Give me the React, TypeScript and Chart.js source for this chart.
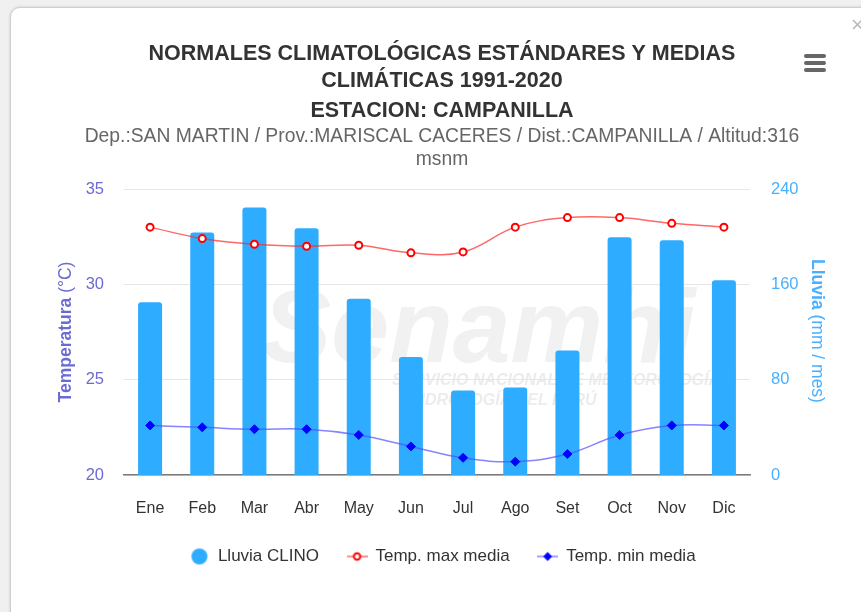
import { useEffect, useRef } from "react";
import { Chart, registerables } from "chart.js";

Chart.register(...registerables);

const FONT = "'Liberation Sans', Arial, Helvetica, sans-serif";
Chart.defaults.font.family = FONT;

const months = ["Ene", "Feb", "Mar", "Abr", "May", "Jun", "Jul", "Ago", "Set", "Oct", "Nov", "Dic"];
const lluviaClino = [145, 203.5, 224.5, 207, 148, 99, 71, 73.5, 104.5, 199.5, 197, 163.5];
const tempMax = [33.0, 32.4, 32.1, 32.0, 32.05, 31.65, 31.7, 33.0, 33.5, 33.5, 33.2, 33.0];
const tempMin = [22.6, 22.5, 22.4, 22.4, 22.1, 21.5, 20.9, 20.7, 21.1, 22.1, 22.6, 22.6];
const tempRange = [20, 35];
const tempStep = 5;
const rainRange = [0, 240];
const rainStep = 80;

const titleLines = [
  "NORMALES CLIMATOLÓGICAS ESTÁNDARES Y MEDIAS",
  "CLIMÁTICAS 1991-2020",
  "ESTACION: CAMPANILLA",
];
const subtitleLines = [
  "Dep.:SAN MARTIN / Prov.:MARISCAL CACERES / Dist.:CAMPANILLA / Altitud:316",
  "msnm",
];
const seriesNames = ["Lluvia CLINO", "Temp. max media", "Temp. min media"];
const leftTitle = ["Temperatura", " (°C)"];
const rightTitle = ["Lluvia", " (mm / mes)"];
const watermark = ["Senamhi", "SERVICIO NACIONAL DE METEOROLOGÍA E", "HIDROLOGÍA DEL PERÚ"];

const BAR_COLOR = "#2eacff";
const MAX_COLOR = "#ff0000";
const MIN_COLOR = "#0000ff";
const LEFT_COLOR = "#6b6bd3";
const RIGHT_COLOR = "#48b0ff";

function makeMarker(kind: string): HTMLCanvasElement {
  const c = document.createElement("canvas");
  const ctx = c.getContext("2d")!;
  if (kind === "bar") {
    c.width = 18;
    c.height = 18;
    ctx.fillStyle = BAR_COLOR;
    ctx.beginPath();
    ctx.arc(9, 9, 8, 0, Math.PI * 2);
    ctx.fill();
    return c;
  }
  c.width = 21;
  c.height = 12;
  ctx.lineWidth = 1.5;
  ctx.strokeStyle = kind === "max" ? "rgba(255,40,40,0.7)" : "rgba(80,80,255,0.7)";
  ctx.beginPath();
  ctx.moveTo(0, 6);
  ctx.lineTo(21, 6);
  ctx.stroke();
  if (kind === "max") {
    ctx.fillStyle = "#fff";
    ctx.strokeStyle = MAX_COLOR;
    ctx.lineWidth = 2;
    ctx.beginPath();
    ctx.arc(10.5, 6, 3.2, 0, Math.PI * 2);
    ctx.fill();
    ctx.stroke();
  } else {
    ctx.fillStyle = MIN_COLOR;
    ctx.beginPath();
    ctx.moveTo(10.5, 1.5);
    ctx.lineTo(15, 6);
    ctx.lineTo(10.5, 10.5);
    ctx.lineTo(6, 6);
    ctx.closePath();
    ctx.fill();
  }
  return c;
}

function drawMixed(ctx: CanvasRenderingContext2D, parts: string[], x: number, y: number, rot: number, size: number, color: string) {
  ctx.save();
  ctx.translate(x, y);
  ctx.rotate(rot);
  ctx.fillStyle = color;
  ctx.textBaseline = "middle";
  ctx.textAlign = "left";
  ctx.font = `bold ${size}px ${FONT}`;
  const w1 = ctx.measureText(parts[0]).width;
  ctx.font = `${size}px ${FONT}`;
  const w2 = ctx.measureText(parts[1]).width;
  const start = -(w1 + w2) / 2;
  ctx.font = `bold ${size}px ${FONT}`;
  ctx.fillText(parts[0], start, 0);
  ctx.font = `${size}px ${FONT}`;
  ctx.fillText(parts[1], start + w1, 0);
  ctx.restore();
}

const overlayPlugin = {
  id: "overlay",
  beforeDraw(chart: any) {
    const ctx: CanvasRenderingContext2D = chart.ctx;
    ctx.save();
    ctx.fillStyle = "#f1f1f1";
    ctx.textAlign = "left";
    ctx.textBaseline = "alphabetic";
    ctx.font = `italic bold 104px ${FONT}`;
    ctx.fillText(watermark[0], 262, 362);
    ctx.fillStyle = "#ececec";
    ctx.font = `italic bold 16px ${FONT}`;
    ctx.fillText(watermark[1], 392, 385);
    ctx.fillText(watermark[2], 409, 405);
    ctx.restore();
  },
  afterDraw(chart: any) {
    const ctx: CanvasRenderingContext2D = chart.ctx;
    ctx.save();
    ctx.textAlign = "center";
    ctx.textBaseline = "alphabetic";
    ctx.fillStyle = "#333333";
    ctx.font = `bold 21.5px ${FONT}`;
    const tb = [60, 87, 117];
    titleLines.forEach((t, i) => ctx.fillText(t, 442, tb[i]));
    ctx.fillStyle = "#666666";
    ctx.font = `19.3px ${FONT}`;
    const sb = [142, 165];
    subtitleLines.forEach((t, i) => ctx.fillText(t, 442, sb[i]));
    ctx.restore();
    drawMixed(ctx, leftTitle, 66, 332, -Math.PI / 2, 17.5, LEFT_COLOR);
    drawMixed(ctx, rightTitle, 817, 331, Math.PI / 2, 17.5, RIGHT_COLOR);
  },
};

export default function App() {
  const ref = useRef<HTMLCanvasElement | null>(null);

  useEffect(() => {
    if (!ref.current) return;
    const markers = [makeMarker("bar"), makeMarker("max"), makeMarker("min")];
    const chart = new Chart(ref.current, {
      type: "bar",
      data: {
        labels: months,
        datasets: [
          {
            type: "bar",
            label: seriesNames[0],
            data: lluviaClino,
            yAxisID: "y1",
            backgroundColor: BAR_COLOR,
            borderRadius: 3,
            borderSkipped: "start",
            categoryPercentage: 1,
            barPercentage: 0.46,
            order: 2,
          },
          {
            type: "line",
            label: seriesNames[1],
            data: tempMax,
            yAxisID: "y",
            borderColor: "rgba(255,40,40,0.7)",
            borderWidth: 1.5,
            tension: 0.4,
            pointRadius: 3.5,
            pointBackgroundColor: "#ffffff",
            pointBorderColor: MAX_COLOR,
            pointBorderWidth: 2,
            order: 1,
          },
          {
            type: "line",
            label: seriesNames[2],
            data: tempMin,
            yAxisID: "y",
            borderColor: "rgba(80,80,255,0.7)",
            borderWidth: 1.5,
            tension: 0.4,
            pointStyle: "rectRot",
            pointRadius: 4.5,
            pointBackgroundColor: MIN_COLOR,
            pointBorderColor: MIN_COLOR,
            pointBorderWidth: 1,
            order: 0,
          },
        ],
      },
      options: {
        responsive: false,
        animation: false,
        layout: { padding: { top: 189, bottom: 37, left: 24, right: 0 } },
        plugins: {
          title: { display: false },
          tooltip: { enabled: false },
          legend: {
            display: true,
            position: "bottom",
            labels: {
              usePointStyle: true,
              pointStyleWidth: 20,
              padding: 28,
              color: "#333333",
              font: { size: 17 },
              generateLabels: (c: any) => {
                const items = Chart.defaults.plugins.legend.labels.generateLabels(c);
                return items
                  .slice()
                  .sort((a: any, b: any) => a.datasetIndex - b.datasetIndex)
                  .map((it: any) => ({ ...it, pointStyle: markers[it.datasetIndex] }));
              },
            },
          },
        },
        scales: {
          x: {
            grid: { display: false, drawTicks: false },
            border: { display: true, color: "#7a7a7a", width: 1.5 },
            ticks: { color: "#333333", font: { size: 16 }, padding: 24 },
            afterFit: (s: any) => {
              s.height = 45;
            },
          },
          y: {
            position: "left",
            min: tempRange[0],
            max: tempRange[1],
            grid: { color: "#e6e6e6", drawTicks: false },
            border: { display: false },
            ticks: { stepSize: tempStep, color: LEFT_COLOR, font: { size: 16.5 }, padding: 20 },
            afterFit: (s: any) => {
              s.width = 100;
            },
          },
          y1: {
            position: "right",
            min: rainRange[0],
            max: rainRange[1],
            grid: { display: false, drawTicks: false },
            border: { display: false },
            ticks: { stepSize: rainStep, color: RIGHT_COLOR, font: { size: 16.5 }, padding: 21 },
            afterFit: (s: any) => {
              s.width = 111;
            },
          },
        },
      },
      plugins: [overlayPlugin],
    } as any);
    return () => chart.destroy();
  }, []);

  return (
    <div style={{ position: "fixed", left: 0, top: 0, width: 861, height: 612, background: "#f0f0f0", overflow: "hidden" }}>
      <div
        style={{
          position: "absolute",
          left: 10,
          top: 7,
          width: 900,
          height: 700,
          background: "#ffffff",
          border: "1px solid #cfcfcf",
          borderRadius: 10,
          boxShadow: "0 0 3px rgba(0,0,0,0.15)",
        }}
      />
      <canvas ref={ref} width={861} height={612} style={{ position: "absolute", left: 0, top: 0, width: 861, height: 612 }} />
      <div style={{ position: "absolute", left: 804, top: 54, width: 22 }}>
        {[0, 1, 2].map((i) => (
          <div key={i} style={{ height: 4, background: "#666", borderRadius: 2, marginBottom: 3 }} />
        ))}
      </div>
      <div style={{ position: "absolute", left: 851, top: 12, fontFamily: FONT, fontSize: 22, color: "#bbbbbb" }}>×</div>
    </div>
  );
}
